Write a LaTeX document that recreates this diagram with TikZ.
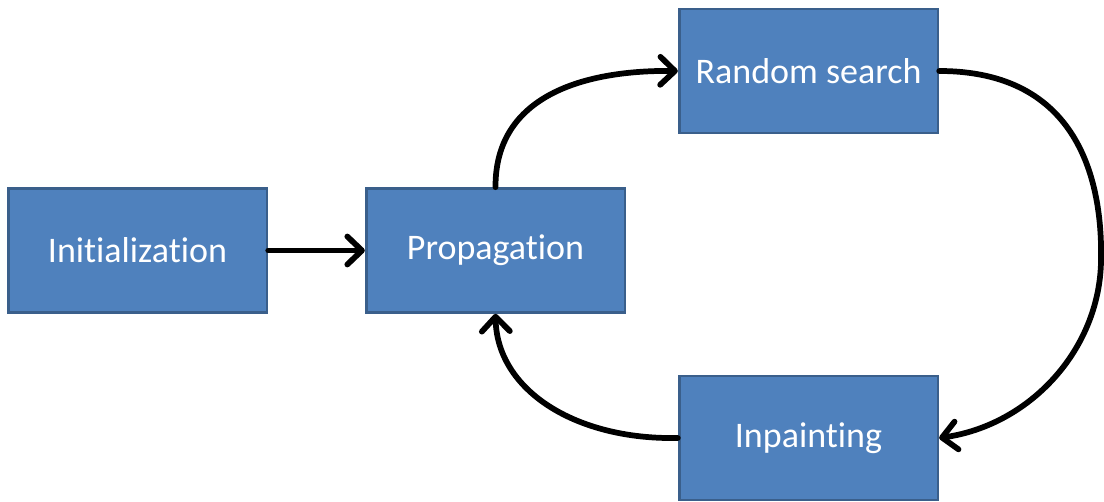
\documentclass[tikz,border=0pt]{standalone}
\usepackage{fontspec}
\setmainfont{Carlito}[Ligatures={NoCommon,NoRare,NoContextual}]
\usetikzlibrary{arrows.meta}
\definecolor{boxfill}{HTML}{4F81BD}
\definecolor{boxline}{HTML}{3A5F8B}
\begin{document}
\begin{tikzpicture}[x=0.75pt,y=-0.75pt,
  stage/.style={draw=boxline, line width=2pt, fill=boxfill, text=white,
    minimum width=194pt, minimum height=93pt, inner sep=0pt,
    font=\fontsize{27}{30}\selectfont},
  flow/.style={line width=4.3pt, line cap=round, draw=black,
    -{Straight Barb[length=11pt,width=21pt,round]},
    preaction={draw=black!30, opacity=0.5, transform canvas={shift={(1.2pt,-1.2pt)}}}}]
\fill[white] (0,0) rectangle (1104,502);
\useasboundingbox (0,0) rectangle (1104,502);

\node[stage] (init) at (137.5,250.5) {Initialization};
\node[stage] (prop) at (495.5,250.5) {Propagation};
\node[stage] (rand) at (808.5,71)    {Random search};
\node[stage] (inp)  at (808.5,438)   {Inpainting};

\draw[flow] (init.east) -- (prop.west);
\draw[flow] (prop.north) .. controls (495,95) and (585,70) .. (rand.west);
\draw[flow] (rand.east) .. controls (1078,71) and (1103,180) .. (1101,262)
                        .. controls (1099,350) and (1030,425) .. (inp.east);
\draw[flow] (inp.west) .. controls (575,440) and (497,390) .. (prop.south);
\end{tikzpicture}
\end{document}
